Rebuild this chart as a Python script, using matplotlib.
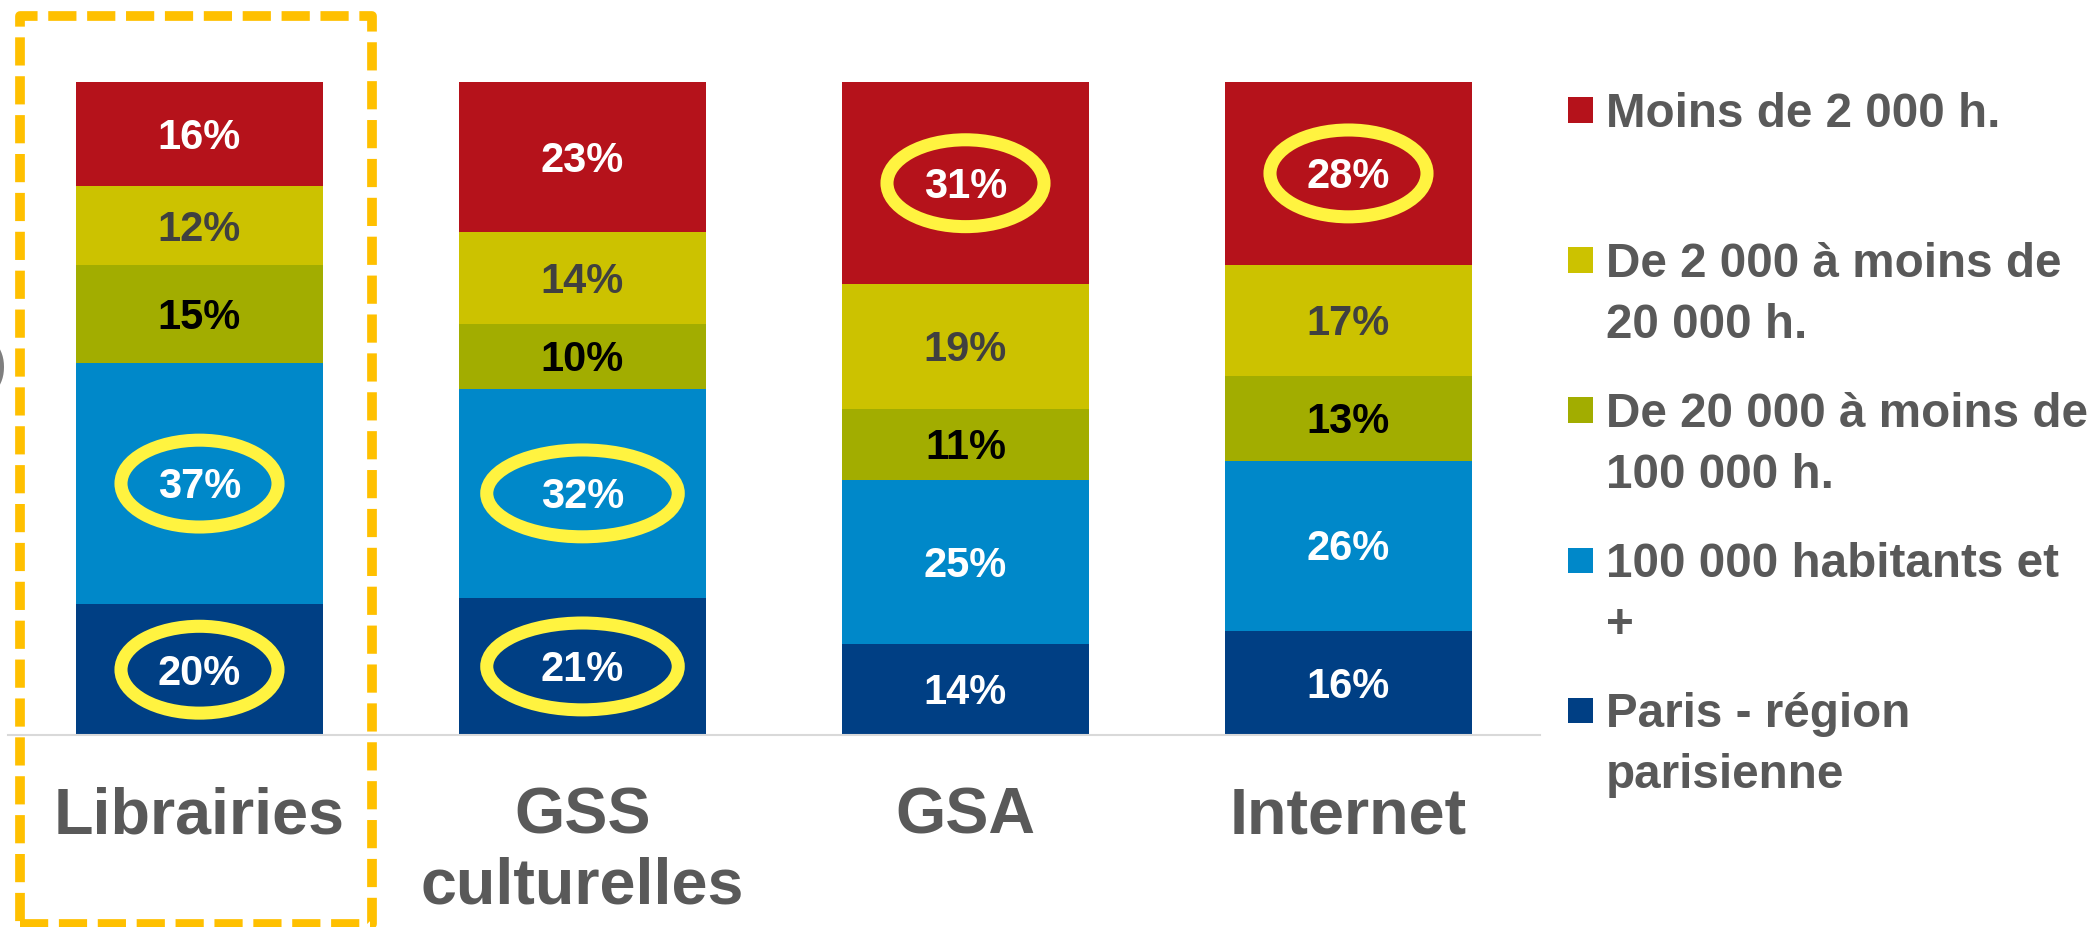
import matplotlib
matplotlib.use("Agg")
import numpy as np
import matplotlib.pyplot as plt
from matplotlib.patches import Ellipse, Rectangle
from matplotlib.transforms import blended_transform_factory

plt.rcParams['font.family'] = ['Liberation Sans', 'DejaVu Sans']
plt.rcParams['font.weight'] = 'bold'

categories = ['Librairies', 'GSS\nculturelles', 'GSA', 'Internet']

# stacked from the bottom up
series_names = ['Paris - région\nparisienne',
                '100 000 habitants et\n+',
                'De 20 000 à moins de\n100 000 h.',
                'De 2 000 à moins de\n20 000 h.',
                'Moins de 2 000 h.']
paris = [20, 21, 14, 16]
plus_100k = [37, 32, 25, 26]
from_20k = [15, 10, 11, 13]
from_2k = [12, 14, 19, 17]
under_2k = [16, 23, 31, 28]
series_values = [paris, plus_100k, from_20k, from_2k, under_2k]

series_colors = ['#003F84', '#0088C9', '#A2AD00', '#CCC200', '#B5121B']
label_colors = ['white', 'white', 'black', '#404040', 'white']

# circled values: (category index, series index)
highlighted = [(0, 1), (0, 0), (1, 1), (1, 0), (2, 4), (3, 4)]
ellipse_widths = [0.41, 0.50, 0.41, 0.41]

W, H = 2097, 927
fig = plt.figure(figsize=(W / 100, H / 100), dpi=100)
ax = fig.add_axes([8 / W, 1 - 735 / H, 1532 / W, 653 / H])
ax.set_xlim(-0.5, 3.5)
ax.set_ylim(0, 100)

x = np.arange(len(categories))
bottoms = np.zeros(len(categories))
mids = []
for vals, color, lc in zip(series_values, series_colors, label_colors):
    vals = np.array(vals, dtype=float)
    ax.bar(x, vals, width=0.645, bottom=bottoms, color=color, linewidth=0, zorder=2)
    mid = bottoms + vals / 2
    mids.append(mid)
    for xi, v, m in zip(x, vals, mid):
        ax.annotate(f'{int(v)}%', (xi, m), xytext=(0, -10.7), textcoords='offset points',
                    ha='center', va='baseline', fontsize=30, color=lc,
                    fontweight='bold', zorder=5)
    bottoms += vals

for ci, si in highlighted:
    ax.add_patch(Ellipse((x[ci], mids[si][ci]), ellipse_widths[ci], 13.3,
                         fill=False, edgecolor='#FFF340', linewidth=9.4, zorder=4))

for side in ['top', 'right', 'left']:
    ax.spines[side].set_visible(False)
ax.spines['bottom'].set_color('#D9D9D9')
ax.spines['bottom'].set_linewidth(1.5)
ax.set_xticks([])
ax.set_yticks([])

# category names under the bars
trans = blended_transform_factory(ax.transData, fig.transFigure)
for xi, name in zip(x, categories):
    for k, line in enumerate(name.split('\n')):
        ax.text(xi, 1 - (833 + 70 * k) / H, line, transform=trans, ha='center',
                va='baseline', fontsize=46.5, color='#595959', fontweight='bold')

# legend, top entry first
for i, k in enumerate(range(len(series_names) - 1, -1, -1)):
    cy = 110 + 150 * i
    fig.add_artist(Rectangle((1568 / W, 1 - (cy + 12.5) / H), 25 / W, 25 / H,
                             transform=fig.transFigure, color=series_colors[k], linewidth=0))
    for j, line in enumerate(series_names[k].split('\n')):
        fig.text(1606 / W, 1 - (cy + 17 + 61 * j) / H, line, ha='left', va='baseline',
                 fontsize=34.3, color='#595959', fontweight='bold')

# clipped bracket at the left edge
fig.text(7 / W, 1 - 367 / H, ')', ha='right', va='center', fontsize=40,
         color='#7F7F7F', fontweight='normal')

# dashed frame around the first column
fig.add_artist(Rectangle((20 / W, 1 - 924 / H), 352 / W, 908.5 / H,
                         transform=fig.transFigure, fill=False, edgecolor='#FFC000',
                         linewidth=7, linestyle=(0, (2.9, 1.1)), joinstyle='round',
                         clip_on=False))

fig.savefig('out.png', dpi=100)
